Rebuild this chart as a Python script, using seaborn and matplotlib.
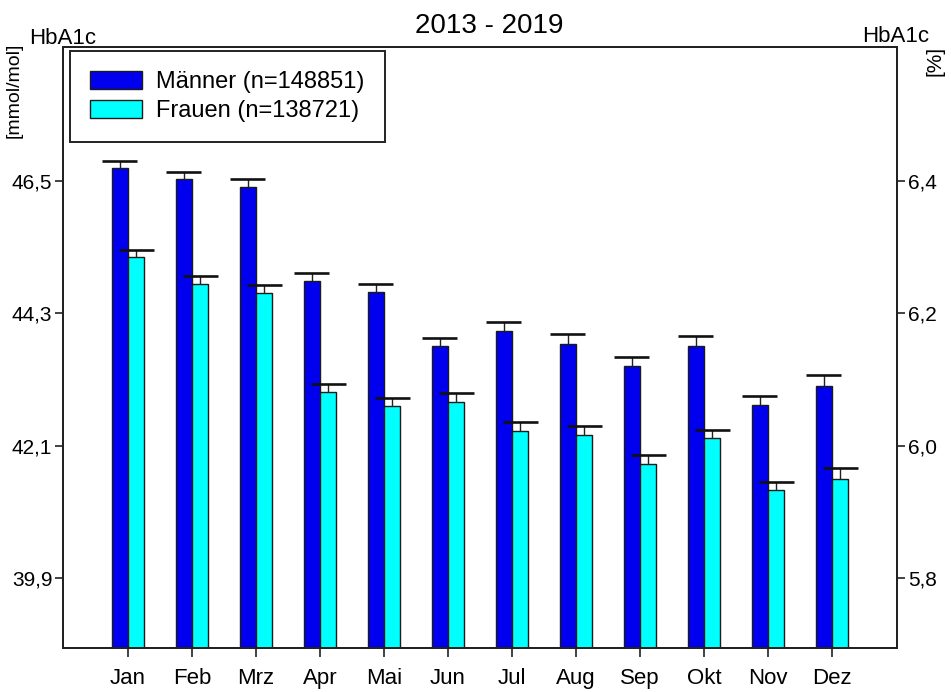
import numpy as np
import pandas as pd
import matplotlib
matplotlib.use("Agg")
import matplotlib.pyplot as plt
import seaborn as sns

# values (HbA1c in mmol/mol)
monate = ["Jan", "Feb", "Mrz", "Apr", "Mai", "Jun", "Jul", "Aug", "Sep", "Okt", "Nov", "Dez"]
maenner = [46.72, 46.54, 46.40, 44.84, 44.65, 43.76, 44.01, 43.79, 43.42, 43.75, 42.77, 43.09]
frauen = [45.24, 44.79, 44.64, 42.99, 42.76, 42.82, 42.35, 42.28, 41.80, 42.22, 41.36, 41.55]
maenner_err = [0.11, 0.12, 0.13, 0.14, 0.14, 0.13, 0.15, 0.17, 0.16, 0.18, 0.15, 0.18]
frauen_err = [0.12, 0.13, 0.14, 0.14, 0.13, 0.15, 0.14, 0.15, 0.14, 0.14, 0.14, 0.17]
gruppen = ["Männer (n=148851)", "Frauen (n=138721)"]
farben = ["#0000EE", "#00FFFF"]

mmol_ticks = [39.9, 42.1, 44.3, 46.5]
prozent_ticks = [5.8, 6.0, 6.2, 6.4]

df = pd.DataFrame({
    "Monat": monate * 2,
    "Gruppe": [gruppen[0]] * 12 + [gruppen[1]] * 12,
    "HbA1c": maenner + frauen,
})

sns.set_style("ticks")
plt.rcParams["font.family"] = ["Liberation Sans", "DejaVu Sans"]
plt.rcParams["text.color"] = "black"
plt.rcParams["xtick.color"] = "black"
plt.rcParams["ytick.color"] = "black"

fig = plt.figure(figsize=(9.51, 6.92), dpi=100)
ax = fig.add_axes([0.0659, 0.0636, 0.8776, 0.8689])

sns.barplot(data=df, x="Monat", y="HbA1c", hue="Gruppe", order=monate,
            hue_order=gruppen, palette=dict(zip(gruppen, farben)),
            saturation=1, width=0.514, edgecolor="#1a1a1a", linewidth=1.0,
            ax=ax)

# upper error bars only (stem + cap)
for cont, err in zip(ax.containers, [maenner_err, frauen_err]):
    xs = np.array([p.get_x() + p.get_width() / 2 for p in cont.patches])
    ys = np.array([p.get_height() for p in cont.patches])
    top = ys + np.array(err)
    ax.vlines(xs, ys, top, colors="#222222", linewidth=1.0, zorder=5)
    ax.hlines(top, xs - 0.272, xs + 0.272, colors="#111111", linewidth=1.9,
              zorder=5)

ax.set_xlim(-1.02, 11 + 1.02)
ax.set_ylim(38.73, 48.74)
ax.set_yticks(mmol_ticks)
ax.set_yticklabels([f"{v:.1f}".replace(".", ",") for v in mmol_ticks])
ax.set_xlabel("")
ax.set_ylabel("")
ax.tick_params(axis="x", direction="out", length=6.5, width=1.2, pad=8,
               labelsize=16, color="#222222", labelcolor="black")
ax.tick_params(axis="y", direction="out", length=6, width=1.2, pad=1.5,
               labelsize=15, color="#222222", labelcolor="black")

ax2 = ax.twinx()
lo, hi = ax.get_ylim()
umr = lambda v: 5.8 + (v - 39.9) * (0.6 / 6.6)
ax2.set_ylim(umr(lo), umr(hi))
ax2.set_yticks(prozent_ticks)
ax2.set_yticklabels([f"{v:.1f}".replace(".", ",") for v in prozent_ticks])
ax2.tick_params(axis="y", direction="out", length=6, width=1.2, pad=1.5,
                labelsize=15, color="#222222", labelcolor="black")

for a in (ax, ax2):
    for s in a.spines.values():
        s.set_visible(True)
        s.set_linewidth(1.4)
        s.set_color("#222222")

handles, labels = ax.get_legend_handles_labels()
leg = ax.legend(handles, labels, loc="upper left", bbox_to_anchor=(0.0087, 0.9928),
                borderaxespad=0, fontsize=17, frameon=True, fancybox=False,
                edgecolor="#222222", framealpha=1, handlelength=2.2,
                handleheight=0.75, handletextpad=0.6, labelspacing=0.3,
                borderpad=0.85)
leg.get_frame().set_linewidth(1.4)
for t in leg.get_texts():
    t.set_color("black")

fig.text(489.5 / 951, 1 - 33 / 692, "2013 - 2019", ha="center", va="baseline",
         fontsize=20)
fig.text(29 / 951, 1 - 44 / 692, "HbA1c", ha="left", va="baseline", fontsize=16)
fig.text(862 / 951, 1 - 42 / 692, "HbA1c", ha="left", va="baseline", fontsize=16)
fig.text(14 / 951, 1 - 90 / 692, "[mmol/mol]", rotation=90, ha="center",
         va="center", fontsize=14)
fig.text(935 / 951, 1 - 61 / 692, "[%]", rotation=90, ha="center",
         va="center", fontsize=15)

fig.savefig("out.png", dpi=100)
